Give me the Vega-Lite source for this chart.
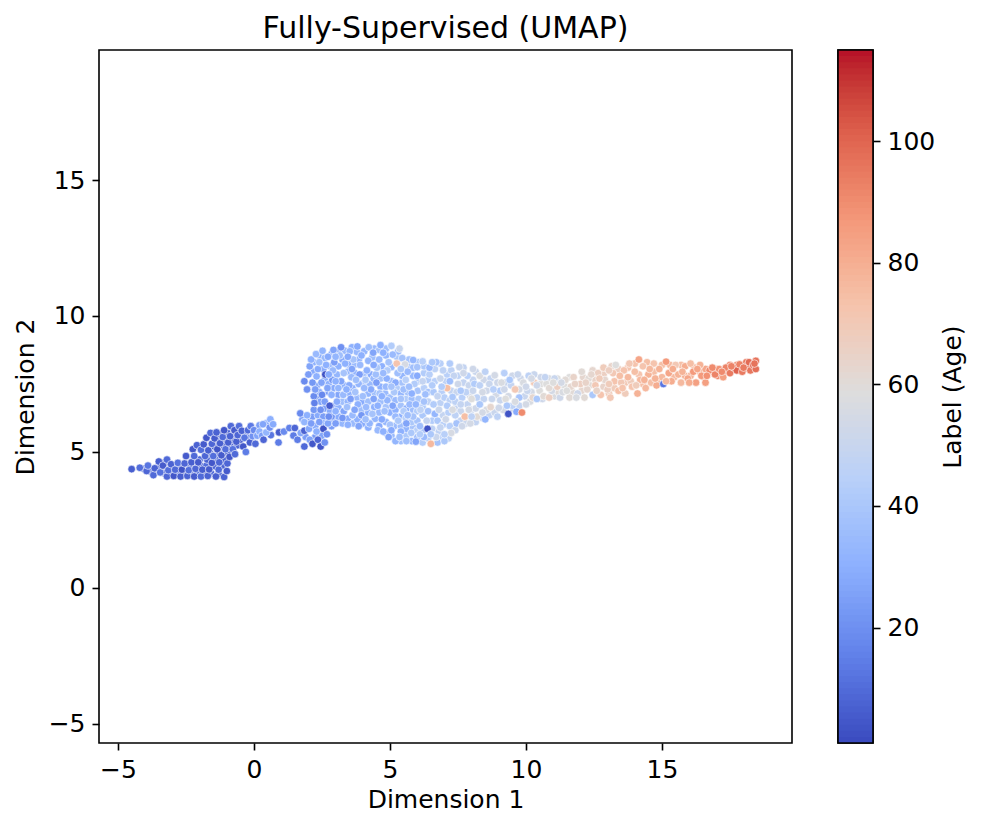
{"$schema":"https://vega.github.io/schema/vega-lite/v6.json","padding":{"left":12,"top":13,"right":8,"bottom":8},"background":"white","spacing":43,
"config":{"view":{"stroke":"#000","strokeWidth":1.6},"font":"DejaVu Sans","axis":{"grid":false,"domain":false,"tickColor":"#000","tickSize":7,"tickWidth":1.6,"labelColor":"#000","titleColor":"#000","labelFontSize":25,"titleFontSize":25,"titleFontWeight":"normal","labelPadding":7,"labelFont":"DejaVu Sans","titleFont":"DejaVu Sans"}},
"datasets":{"pts":[
{"x":1.95,"y":6.15,"a":26},{"x":2.15,"y":6.3,"a":24},{"x":2.35,"y":6.35,"a":28},{"x":2.55,"y":6.3,"a":24},{"x":2.25,"y":5.95,"a":28},{"x":2.55,"y":6.05,"a":30},{"x":1.9,"y":5.55,"a":24},{"x":2.25,"y":5.55,"a":22},{"x":2.5,"y":5.6,"a":26},{"x":1.78,"y":6.2,"a":26},{"x":2.85,"y":5.95,"a":24},{"x":2.8,"y":6.1,"a":28},
{"x":-4.05,"y":4.38,"a":9},{"x":-3.8,"y":4.28,"a":10},{"x":-3.55,"y":4.42,"a":8},{"x":-3.3,"y":4.22,"a":7},{"x":-3.28,"y":4.62,"a":11},{"x":-3.05,"y":4.22,"a":9},{"x":-2.82,"y":4.24,"a":12},{"x":-2.72,"y":4.48,"a":6},{"x":-2.55,"y":4.22,"a":10},{"x":-2.35,"y":4.48,"a":9},{"x":-2.3,"y":4.22,"a":8},{"x":-2.1,"y":4.22,"a":11},{"x":-1.98,"y":4.5,"a":7},{"x":-2.0,"y":4.72,"a":9},{"x":-1.82,"y":4.22,"a":6},{"x":-1.75,"y":4.5,"a":10},{"x":-1.72,"y":4.72,"a":7},{"x":-1.58,"y":4.22,"a":9},{"x":-1.62,"y":4.95,"a":6},{"x":-1.45,"y":4.48,"a":8},{"x":-1.4,"y":4.72,"a":10},{"x":-1.45,"y":5.2,"a":7},{"x":-1.3,"y":4.2,"a":6},{"x":-1.28,"y":4.95,"a":9},{"x":-1.3,"y":5.42,"a":10},{"x":-1.25,"y":5.65,"a":6},{"x":-1.15,"y":4.5,"a":7},{"x":-1.1,"y":4.72,"a":8},{"x":-1.1,"y":5.22,"a":5},{"x":-1.02,"y":5.45,"a":11},{"x":-0.98,"y":5.7,"a":8},{"x":-0.95,"y":4.95,"a":7},{"x":-0.85,"y":5.22,"a":8},{"x":-0.78,"y":5.45,"a":9},{"x":-0.75,"y":5.68,"a":10},{"x":-0.6,"y":5.25,"a":7},{"x":-0.5,"y":5.45,"a":5},{"x":-0.48,"y":5.62,"a":9},{"x":-0.3,"y":5.68,"a":11},{"x":-0.2,"y":5.5,"a":10},{"x":0.2,"y":5.98,"a":24},{"x":0.45,"y":6.05,"a":28},{"x":0.62,"y":5.62,"a":12},
{"x":2.3,"y":6.95,"a":22},{"x":2.3,"y":7.42,"a":26},{"x":2.2,"y":7.95,"a":28},{"x":2.2,"y":8.3,"a":30},{"x":2.4,"y":8.55,"a":30},{"x":2.45,"y":6.85,"a":26},{"x":2.4,"y":7.2,"a":28},{"x":2.6,"y":6.6,"a":24},{"x":2.6,"y":7.65,"a":30},{"x":2.55,"y":8.05,"a":28},{"x":2.6,"y":8.45,"a":34},{"x":2.8,"y":6.5,"a":28},{"x":2.75,"y":7.2,"a":24},{"x":2.75,"y":7.5,"a":30},{"x":2.8,"y":8.15,"a":32},{"x":2.85,"y":8.6,"a":30},{"x":2.9,"y":6.15,"a":26},{"x":2.95,"y":6.7,"a":24},{"x":2.95,"y":7.35,"a":28},{"x":3.1,"y":6.3,"a":28},{"x":3.1,"y":6.65,"a":30},{"x":3.1,"y":7.1,"a":26},{"x":3.05,"y":7.85,"a":32},{"x":3.1,"y":8.15,"a":30},{"x":3.1,"y":8.72,"a":28},{"x":3.25,"y":6.05,"a":32},{"x":3.3,"y":6.5,"a":26},{"x":3.25,"y":6.85,"a":36},{"x":3.3,"y":7.45,"a":30},{"x":3.25,"y":8.4,"a":28},{"x":3.35,"y":8.72,"a":34},{"x":3.45,"y":6.22,"a":28},{"x":3.45,"y":6.85,"a":32},{"x":3.5,"y":7.15,"a":30},{"x":3.45,"y":7.95,"a":32},{"x":3.48,"y":8.22,"a":28},{"x":3.6,"y":8.85,"a":30},{"x":3.65,"y":6.05,"a":34},{"x":3.62,"y":7.35,"a":30},{"x":3.68,"y":7.92,"a":30},{"x":3.72,"y":8.22,"a":34},{"x":3.8,"y":6.2,"a":30},{"x":3.8,"y":7.0,"a":34},{"x":3.85,"y":8.4,"a":30},{"x":3.78,"y":8.68,"a":34},{"x":4.0,"y":6.05,"a":28},{"x":3.95,"y":6.55,"a":36},{"x":4.0,"y":6.85,"a":28},{"x":4.0,"y":7.52,"a":30},{"x":4.02,"y":7.85,"a":38},{"x":4.05,"y":8.7,"a":32},{"x":4.2,"y":5.9,"a":30},{"x":4.2,"y":6.45,"a":30},{"x":4.2,"y":6.85,"a":36},{"x":4.2,"y":7.15,"a":32},{"x":4.25,"y":7.5,"a":34},{"x":4.3,"y":7.85,"a":28},{"x":4.35,"y":8.48,"a":36},{"x":4.45,"y":6.22,"a":32},{"x":4.42,"y":6.65,"a":30},{"x":4.45,"y":7.15,"a":36},{"x":4.4,"y":7.7,"a":34},{"x":4.42,"y":8.8,"a":34},{"x":4.6,"y":5.95,"a":28},{"x":4.6,"y":6.45,"a":34},{"x":4.65,"y":6.85,"a":36},{"x":4.65,"y":7.4,"a":30},{"x":4.65,"y":7.7,"a":38},{"x":4.7,"y":8.15,"a":30},{"x":4.6,"y":8.75,"a":38},{"x":4.85,"y":5.7,"a":36},{"x":4.85,"y":6.1,"a":32},{"x":4.85,"y":6.65,"a":38},{"x":4.82,"y":7.15,"a":34},{"x":4.85,"y":8.55,"a":32},{"x":4.85,"y":8.8,"a":36},{"x":5.0,"y":6.45,"a":30},{"x":5.0,"y":7.0,"a":36},{"x":5.05,"y":7.6,"a":36},{"x":5.05,"y":8.12,"a":34},{"x":5.05,"y":5.6,"a":34},{"x":5.15,"y":5.95,"a":34},{"x":5.2,"y":6.55,"a":30},{"x":5.2,"y":6.9,"a":34},{"x":5.25,"y":7.35,"a":42},{"x":5.25,"y":8.5,"a":40},{"x":5.3,"y":8.7,"a":34},{"x":5.4,"y":5.4,"a":36},{"x":5.4,"y":5.95,"a":36},{"x":5.4,"y":6.3,"a":30},{"x":5.4,"y":6.7,"a":38},{"x":5.4,"y":7.15,"a":32},{"x":5.45,"y":7.55,"a":38},{"x":5.45,"y":7.8,"a":32},{"x":5.6,"y":5.6,"a":40},{"x":5.6,"y":5.85,"a":32},{"x":5.58,"y":6.25,"a":44},{"x":5.6,"y":6.6,"a":30},{"x":5.6,"y":6.95,"a":42},{"x":5.65,"y":7.2,"a":38},{"x":5.65,"y":8.15,"a":36},{"x":5.7,"y":8.4,"a":38},{"x":5.8,"y":5.4,"a":34},{"x":5.85,"y":5.9,"a":38},{"x":5.8,"y":6.1,"a":40},{"x":5.85,"y":6.55,"a":36},{"x":5.8,"y":6.95,"a":36},{"x":5.85,"y":7.8,"a":34},{"x":5.85,"y":8.1,"a":36},{"x":6.0,"y":5.55,"a":36},{"x":6.0,"y":5.8,"a":44},{"x":6.0,"y":6.15,"a":38},{"x":6.0,"y":6.5,"a":42},{"x":6.02,"y":7.25,"a":38},{"x":6.05,"y":7.6,"a":40},{"x":6.05,"y":8.3,"a":40},{"x":6.2,"y":5.35,"a":42},{"x":6.2,"y":5.78,"a":38},{"x":6.2,"y":6.35,"a":40},{"x":6.2,"y":6.65,"a":42},{"x":6.25,"y":7.35,"a":44},{"x":6.25,"y":7.9,"a":42},{"x":6.25,"y":8.15,"a":40},{"x":6.4,"y":5.5,"a":44},{"x":6.4,"y":6.5,"a":38},{"x":6.4,"y":6.85,"a":46},{"x":6.4,"y":7.2,"a":38},{"x":6.4,"y":7.65,"a":42},{"x":6.55,"y":5.85,"a":46},{"x":6.55,"y":6.15,"a":42},{"x":6.6,"y":7.2,"a":40},{"x":6.65,"y":7.6,"a":44},{"x":6.65,"y":8.05,"a":46},{"x":6.75,"y":5.35,"a":38},{"x":6.8,"y":5.75,"a":46},{"x":6.75,"y":6.15,"a":40},{"x":6.85,"y":6.8,"a":46},{"x":6.9,"y":7.2,"a":44},{"x":6.85,"y":8.25,"a":44},{"x":6.95,"y":5.55,"a":42},{"x":6.95,"y":6.0,"a":44},{"x":6.95,"y":6.35,"a":48},{"x":7.0,"y":7.0,"a":44},{"x":7.05,"y":7.6,"a":46},{"x":7.1,"y":7.85,"a":44},{"x":7.15,"y":5.5,"a":46},{"x":7.2,"y":5.95,"a":44},{"x":7.15,"y":6.45,"a":44},{"x":7.2,"y":6.9,"a":46},{"x":7.25,"y":7.25,"a":48},{"x":7.25,"y":8.0,"a":46},{"x":7.4,"y":5.8,"a":50},{"x":7.4,"y":6.6,"a":48},{"x":7.4,"y":6.85,"a":46},{"x":7.45,"y":7.2,"a":50},{"x":7.5,"y":7.8,"a":46},{"x":7.6,"y":6.15,"a":48},{"x":7.6,"y":6.5,"a":50},{"x":7.65,"y":7.0,"a":44},{"x":7.7,"y":7.55,"a":48},{"x":7.7,"y":8.1,"a":48},{"x":7.8,"y":6.05,"a":50},{"x":7.85,"y":6.75,"a":48},{"x":7.9,"y":7.45,"a":50},{"x":7.95,"y":7.05,"a":54},{"x":8.0,"y":6.55,"a":50},{"x":8.05,"y":7.65,"a":48},{"x":8.15,"y":6.1,"a":48},{"x":8.15,"y":6.6,"a":52},{"x":8.2,"y":7.0,"a":46},{"x":8.15,"y":7.95,"a":50},{"x":8.4,"y":6.25,"a":52},{"x":8.45,"y":6.95,"a":48},{"x":8.45,"y":7.65,"a":52},{"x":8.55,"y":7.25,"a":52},{"x":8.65,"y":6.35,"a":48},{"x":8.7,"y":7.7,"a":48},{"x":8.85,"y":6.45,"a":50},{"x":8.9,"y":7.1,"a":54},{"x":8.95,"y":7.55,"a":52},{"x":9.05,"y":6.9,"a":50},{"x":9.15,"y":6.55,"a":54},{"x":9.25,"y":7.55,"a":50},{"x":9.35,"y":7.05,"a":54},{"x":9.45,"y":7.45,"a":48},{"x":9.5,"y":7.8,"a":52},{"x":9.55,"y":6.6,"a":52},{"x":9.75,"y":6.7,"a":48},{"x":9.75,"y":7.3,"a":54},{"x":9.8,"y":7.7,"a":52},{"x":9.95,"y":7.05,"a":50},{"x":10.2,"y":7.2,"a":54},{"x":10.15,"y":6.85,"a":56},{"x":10.3,"y":7.85,"a":50},{"x":10.55,"y":7.5,"a":58},{"x":10.6,"y":6.95,"a":52},{"x":10.85,"y":7.7,"a":56},{"x":11.05,"y":7.05,"a":56},{"x":11.15,"y":7.7,"a":58},{"x":11.2,"y":7.2,"a":60},{"x":11.4,"y":7.45,"a":58},{"x":11.6,"y":7.75,"a":58},{"x":11.7,"y":7.2,"a":60},{"x":12.05,"y":7.25,"a":62},{"x":12.1,"y":7.75,"a":62},{"x":12.35,"y":7.45,"a":60},{"x":12.45,"y":8.0,"a":62},{"x":12.55,"y":7.65,"a":64},{"x":12.85,"y":7.4,"a":64},{"x":12.85,"y":7.85,"a":66},{"x":13.05,"y":7.15,"a":68},{"x":13.25,"y":7.35,"a":68},{"x":13.15,"y":8.15,"a":64},{"x":13.4,"y":8.05,"a":66},{"x":13.65,"y":7.55,"a":70},{"x":13.75,"y":8.1,"a":72},{"x":13.85,"y":7.6,"a":68},{"x":14.0,"y":8.25,"a":72},{"x":14.15,"y":7.85,"a":72},{"x":14.3,"y":7.5,"a":74},{"x":14.45,"y":8.3,"a":74},{"x":14.7,"y":7.95,"a":74},{"x":14.9,"y":7.55,"a":74},{"x":15.0,"y":8.2,"a":74},{"x":15.3,"y":8.2,"a":76},{"x":15.45,"y":7.75,"a":76},{"x":15.7,"y":8.2,"a":74},{"x":15.85,"y":7.8,"a":78},{"x":16.05,"y":7.8,"a":78},{"x":16.2,"y":8.1,"a":78},{"x":16.4,"y":7.95,"a":80},{"x":16.55,"y":7.75,"a":84},{"x":16.6,"y":8.05,"a":82},{"x":16.95,"y":8.05,"a":86},{"x":17.05,"y":7.8,"a":90},{"x":17.3,"y":7.95,"a":88},{"x":17.5,"y":8.2,"a":90},{"x":17.75,"y":8.2,"a":90},{"x":17.85,"y":8.0,"a":94},{"x":18.1,"y":8.3,"a":94},{"x":18.2,"y":8.05,"a":92},
{"x":-4.5,"y":4.37,"a":6},{"x":-4.2,"y":4.42,"a":10},{"x":-3.95,"y":4.3,"a":8},{"x":-3.9,"y":4.5,"a":12},{"x":-3.7,"y":4.15,"a":9},{"x":-3.65,"y":4.4,"a":7},{"x":-3.5,"y":4.65,"a":6},{"x":-3.45,"y":4.25,"a":11},{"x":-3.35,"y":4.5,"a":5},{"x":-3.2,"y":4.1,"a":8},{"x":-3.2,"y":4.72,"a":9},{"x":-3.15,"y":4.33,"a":10},{"x":-3.05,"y":4.55,"a":7},{"x":-2.95,"y":4.12,"a":4},{"x":-2.9,"y":4.35,"a":9},{"x":-2.8,"y":4.6,"a":11},{"x":-2.7,"y":4.1,"a":6},{"x":-2.65,"y":4.35,"a":3},{"x":-2.55,"y":4.58,"a":8},{"x":-2.5,"y":4.85,"a":5},{"x":-2.45,"y":4.12,"a":7},{"x":-2.4,"y":4.33,"a":10},{"x":-2.3,"y":4.62,"a":6},{"x":-2.25,"y":5.1,"a":4},{"x":-2.2,"y":4.1,"a":5},{"x":-2.2,"y":4.85,"a":9},{"x":-2.15,"y":4.38,"a":8},{"x":-2.1,"y":5.25,"a":7},{"x":-2.05,"y":4.62,"a":5},{"x":-1.95,"y":4.1,"a":9},{"x":-1.95,"y":5.08,"a":10},{"x":-1.9,"y":4.35,"a":6},{"x":-1.85,"y":5.28,"a":5},{"x":-1.8,"y":4.85,"a":8},{"x":-1.75,"y":5.52,"a":4},{"x":-1.7,"y":4.12,"a":7},{"x":-1.68,"y":5.06,"a":6},{"x":-1.65,"y":4.36,"a":5},{"x":-1.6,"y":5.7,"a":9},{"x":-1.55,"y":4.6,"a":4},{"x":-1.55,"y":5.3,"a":8},{"x":-1.5,"y":4.85,"a":10},{"x":-1.45,"y":5.5,"a":5},{"x":-1.4,"y":4.1,"a":6},{"x":-1.38,"y":5.72,"a":7},{"x":-1.35,"y":5.1,"a":3},{"x":-1.3,"y":4.35,"a":9},{"x":-1.28,"y":4.62,"a":8},{"x":-1.25,"y":5.32,"a":6},{"x":-1.2,"y":4.88,"a":5},{"x":-1.15,"y":5.55,"a":9},{"x":-1.1,"y":4.08,"a":7},{"x":-1.1,"y":5.8,"a":4},{"x":-1.05,"y":5.1,"a":10},{"x":-1.0,"y":4.3,"a":5},{"x":-0.98,"y":4.58,"a":8},{"x":-0.95,"y":5.35,"a":6},{"x":-0.9,"y":4.82,"a":4},{"x":-0.88,"y":5.58,"a":7},{"x":-0.85,"y":5.95,"a":9},{"x":-0.78,"y":5.1,"a":11},{"x":-0.72,"y":5.8,"a":5},{"x":-0.7,"y":4.92,"a":9},{"x":-0.65,"y":5.38,"a":6},{"x":-0.6,"y":5.62,"a":8},{"x":-0.55,"y":5.95,"a":10},{"x":-0.45,"y":5.78,"a":7},{"x":-0.4,"y":5.2,"a":4},{"x":-0.35,"y":5.52,"a":12},{"x":-0.3,"y":5.0,"a":14},{"x":-0.22,"y":5.8,"a":9},{"x":-0.15,"y":5.35,"a":6},{"x":-0.12,"y":5.95,"a":13},{"x":-0.05,"y":5.58,"a":20},{"x":0.0,"y":5.8,"a":18},{"x":0.05,"y":5.3,"a":9},{"x":0.12,"y":5.6,"a":26},{"x":0.2,"y":5.75,"a":30},{"x":0.3,"y":5.6,"a":24},{"x":0.35,"y":5.45,"a":8},{"x":0.33,"y":6.02,"a":26},{"x":0.45,"y":5.72,"a":32},{"x":0.6,"y":6.2,"a":30},{"x":0.58,"y":5.9,"a":20},{"x":0.7,"y":6.02,"a":28},{"x":0.92,"y":5.72,"a":5},{"x":0.9,"y":5.35,"a":14},{"x":1.1,"y":5.75,"a":18},{"x":1.3,"y":5.88,"a":15},{"x":1.5,"y":5.88,"a":8},{"x":1.45,"y":5.6,"a":14},{"x":1.6,"y":5.45,"a":14},
{"x":1.7,"y":6.42,"a":18},{"x":1.72,"y":5.7,"a":27},{"x":1.85,"y":6.1,"a":32},{"x":1.85,"y":5.78,"a":7},{"x":1.85,"y":5.2,"a":9},{"x":1.95,"y":6.35,"a":30},{"x":2.02,"y":5.85,"a":27},{"x":2.05,"y":5.45,"a":25},{"x":2.1,"y":6.05,"a":24},{"x":2.15,"y":5.3,"a":4},{"x":2.2,"y":6.55,"a":22},{"x":2.3,"y":5.75,"a":30},{"x":2.35,"y":5.45,"a":8},{"x":2.4,"y":6.1,"a":24},{"x":2.45,"y":5.2,"a":4},{"x":2.55,"y":5.85,"a":3},{"x":2.6,"y":5.35,"a":20},{"x":2.68,"y":5.65,"a":20},{"x":2.72,"y":6.05,"a":26},{"x":2.85,"y":6.3,"a":22},
{"x":1.85,"y":7.6,"a":18},{"x":1.95,"y":7.3,"a":20},{"x":2.0,"y":7.85,"a":24},{"x":2.05,"y":8.15,"a":26},{"x":2.1,"y":8.4,"a":30},{"x":2.15,"y":7.55,"a":22},{"x":2.2,"y":7.05,"a":18},{"x":2.22,"y":6.8,"a":15},{"x":2.25,"y":7.3,"a":24},{"x":2.28,"y":8.6,"a":34},{"x":2.3,"y":7.78,"a":30},{"x":2.35,"y":8.05,"a":28},{"x":2.4,"y":8.3,"a":36},{"x":2.45,"y":6.55,"a":20},{"x":2.48,"y":7.55,"a":26},{"x":2.5,"y":7.1,"a":17},{"x":2.52,"y":8.72,"a":32},{"x":2.6,"y":6.85,"a":24},{"x":2.62,"y":7.85,"a":3},{"x":2.65,"y":8.2,"a":30},{"x":2.7,"y":7.35,"a":26},{"x":2.72,"y":8.5,"a":28},{"x":2.75,"y":6.3,"a":19},{"x":2.78,"y":6.7,"a":6},{"x":2.85,"y":7.1,"a":30},{"x":2.88,"y":7.65,"a":22},{"x":2.9,"y":8.0,"a":34},{"x":2.92,"y":8.75,"a":26},{"x":2.95,"y":8.3,"a":24},{"x":3.0,"y":6.05,"a":24},{"x":3.0,"y":6.5,"a":30},{"x":3.05,"y":6.85,"a":28},{"x":3.1,"y":7.35,"a":32},{"x":3.15,"y":8.55,"a":36},{"x":3.2,"y":7.6,"a":26},{"x":3.2,"y":8.85,"a":20},{"x":3.25,"y":6.25,"a":22},{"x":3.28,"y":7.1,"a":34},{"x":3.3,"y":7.9,"a":38},{"x":3.35,"y":8.25,"a":30},{"x":3.42,"y":6.65,"a":36},{"x":3.45,"y":6.0,"a":30},{"x":3.5,"y":7.45,"a":28},{"x":3.52,"y":8.7,"a":32},{"x":3.55,"y":6.95,"a":24},{"x":3.58,"y":7.75,"a":34},{"x":3.6,"y":8.05,"a":26},{"x":3.62,"y":6.35,"a":34},{"x":3.65,"y":8.4,"a":38},{"x":3.72,"y":7.2,"a":38},{"x":3.8,"y":8.88,"a":28},{"x":3.82,"y":6.75,"a":30},{"x":3.85,"y":5.95,"a":26},{"x":3.85,"y":7.5,"a":32},{"x":3.88,"y":7.85,"a":24},{"x":3.9,"y":8.2,"a":34},{"x":3.95,"y":6.35,"a":22},{"x":3.95,"y":8.55,"a":30},{"x":4.0,"y":7.05,"a":36},{"x":4.1,"y":7.65,"a":40},{"x":4.12,"y":6.65,"a":34},{"x":4.15,"y":8.0,"a":30},{"x":4.2,"y":8.35,"a":32},{"x":4.22,"y":8.85,"a":36},{"x":4.25,"y":6.05,"a":32},{"x":4.3,"y":7.3,"a":28},{"x":4.35,"y":6.4,"a":38},{"x":4.38,"y":8.65,"a":26},{"x":4.4,"y":6.95,"a":26},{"x":4.48,"y":7.85,"a":36},{"x":4.5,"y":7.55,"a":24},{"x":4.52,"y":8.1,"a":40},{"x":4.55,"y":6.7,"a":30},{"x":4.55,"y":5.8,"a":34},{"x":4.6,"y":8.4,"a":34},{"x":4.62,"y":7.15,"a":38},{"x":4.65,"y":8.93,"a":30},{"x":4.7,"y":6.2,"a":28},{"x":4.75,"y":8.65,"a":30},{"x":4.8,"y":6.5,"a":36},{"x":4.85,"y":7.4,"a":34},{"x":4.88,"y":7.7,"a":30},{"x":4.9,"y":6.9,"a":32},{"x":4.9,"y":8.0,"a":42},{"x":4.95,"y":5.55,"a":26},{"x":4.95,"y":8.3,"a":38},{"x":5.0,"y":6.0,"a":38},{"x":5.05,"y":8.9,"a":42},{"x":5.1,"y":8.58,"a":34},{"x":5.1,"y":6.7,"a":26},{"x":5.15,"y":7.2,"a":40},{"x":5.2,"y":5.4,"a":32},{"x":5.2,"y":6.3,"a":34},{"x":5.2,"y":7.55,"a":28},{"x":5.25,"y":8.25,"a":72},{"x":5.28,"y":7.9,"a":36},{"x":5.35,"y":8.8,"a":50},{"x":5.4,"y":5.75,"a":30},{"x":5.4,"y":6.95,"a":38},{"x":5.45,"y":8.45,"a":38},{"x":5.5,"y":7.3,"a":36},{"x":5.5,"y":6.5,"a":42},{"x":5.55,"y":8.22,"a":55},{"x":5.58,"y":7.65,"a":44},{"x":5.6,"y":5.4,"a":36},{"x":5.6,"y":6.05,"a":26},{"x":5.65,"y":7.95,"a":34},{"x":5.72,"y":6.75,"a":34},{"x":5.78,"y":5.7,"a":40},{"x":5.8,"y":7.15,"a":30},{"x":5.85,"y":8.38,"a":32},{"x":5.85,"y":6.3,"a":38},{"x":5.9,"y":7.5,"a":42},{"x":5.95,"y":5.38,"a":26},{"x":6.0,"y":8.12,"a":38},{"x":6.0,"y":7.8,"a":28},{"x":6.05,"y":6.95,"a":40},{"x":6.1,"y":5.95,"a":36},{"x":6.12,"y":6.55,"a":46},{"x":6.2,"y":8.33,"a":44},{"x":6.25,"y":5.55,"a":34},{"x":6.3,"y":7.12,"a":36},{"x":6.35,"y":6.15,"a":48},{"x":6.38,"y":5.85,"a":3},{"x":6.45,"y":7.85,"a":44},{"x":6.45,"y":8.1,"a":34},{"x":6.5,"y":5.3,"a":76},{"x":6.55,"y":7.45,"a":42},{"x":6.6,"y":6.75,"a":42},{"x":6.65,"y":6.4,"a":32},{"x":6.7,"y":5.55,"a":50},{"x":6.7,"y":8.3,"a":38},{"x":6.75,"y":7.05,"a":48},{"x":6.85,"y":5.9,"a":48},{"x":6.85,"y":7.7,"a":50},{"x":6.95,"y":8.0,"a":46},{"x":7.0,"y":5.4,"a":40},{"x":7.05,"y":6.2,"a":52},{"x":7.1,"y":6.7,"a":42},{"x":7.1,"y":7.35,"a":74},{"x":7.2,"y":8.25,"a":42},{"x":7.25,"y":5.7,"a":55},{"x":7.3,"y":7.02,"a":40},{"x":7.35,"y":7.8,"a":48},{"x":7.4,"y":6.35,"a":46},{"x":7.45,"y":6.05,"a":38},{"x":7.5,"y":7.5,"a":52},{"x":7.55,"y":8.12,"a":50},{"x":7.6,"y":6.75,"a":48},{"x":7.65,"y":5.95,"a":52},{"x":7.75,"y":6.3,"a":74},{"x":7.8,"y":7.2,"a":46},{"x":7.85,"y":7.8,"a":44},{"x":7.9,"y":6.55,"a":54},{"x":7.95,"y":6.05,"a":54},{"x":8.0,"y":6.95,"a":58},{"x":8.05,"y":8.05,"a":52},{"x":8.1,"y":7.5,"a":42},{"x":8.2,"y":6.3,"a":60},{"x":8.3,"y":6.75,"a":40},{"x":8.3,"y":7.8,"a":56},{"x":8.4,"y":7.2,"a":54},{"x":8.5,"y":6.2,"a":32},{"x":8.5,"y":7.95,"a":46},{"x":8.55,"y":6.55,"a":56},{"x":8.65,"y":7.5,"a":50},{"x":8.75,"y":6.95,"a":50},{"x":8.85,"y":7.82,"a":54},{"x":8.95,"y":6.3,"a":46},{"x":9.0,"y":6.62,"a":52},{"x":9.05,"y":7.25,"a":42},{"x":9.1,"y":7.55,"a":56},{"x":9.2,"y":7.9,"a":44},{"x":9.25,"y":6.95,"a":58},{"x":9.35,"y":6.4,"a":3},{"x":9.4,"y":7.65,"a":40},{"x":9.5,"y":6.7,"a":46},{"x":9.6,"y":7.3,"a":70},{"x":9.65,"y":6.48,"a":28},{"x":9.7,"y":7.85,"a":50},{"x":9.75,"y":7.0,"a":38},{"x":9.85,"y":6.45,"a":90},{"x":9.9,"y":7.55,"a":56},{"x":10.0,"y":6.75,"a":54},{"x":10.05,"y":7.25,"a":50},{"x":10.1,"y":7.8,"a":46},{"x":10.25,"y":7.0,"a":62},{"x":10.3,"y":7.55,"a":70},{"x":10.4,"y":6.95,"a":40},{"x":10.5,"y":7.25,"a":58},{"x":10.55,"y":7.75,"a":52},{"x":10.65,"y":7.05,"a":60},{"x":10.75,"y":7.5,"a":58},{"x":10.85,"y":7.0,"a":66},{"x":10.95,"y":7.25,"a":54},{"x":11.05,"y":7.7,"a":50},{"x":11.15,"y":7.4,"a":66},{"x":11.25,"y":7.0,"a":52},{"x":11.35,"y":7.2,"a":56},{"x":11.45,"y":7.65,"a":60},{"x":11.6,"y":7.0,"a":60},{"x":11.65,"y":7.4,"a":62},{"x":11.75,"y":7.75,"a":64},{"x":11.9,"y":7.15,"a":52},{"x":12.0,"y":7.5,"a":66},{"x":12.05,"y":7.95,"a":60},{"x":12.15,"y":7.0,"a":60},{"x":12.25,"y":7.3,"a":62},{"x":12.3,"y":7.7,"a":60},{"x":12.45,"y":7.1,"a":40},{"x":12.55,"y":7.45,"a":70},{"x":12.65,"y":7.9,"a":66},{"x":12.75,"y":7.1,"a":72},{"x":12.85,"y":8.1,"a":68},{"x":12.9,"y":7.65,"a":62},{"x":13.0,"y":7.3,"a":66},{"x":13.1,"y":7.0,"a":70},{"x":13.2,"y":7.9,"a":70},{"x":13.25,"y":7.6,"a":72},{"x":13.3,"y":8.2,"a":58},{"x":13.4,"y":7.25,"a":74},{"x":13.5,"y":7.55,"a":70},{"x":13.6,"y":8.0,"a":72},{"x":13.65,"y":7.15,"a":68},{"x":13.75,"y":7.75,"a":76},{"x":13.8,"y":8.25,"a":70},{"x":13.9,"y":7.4,"a":72},{"x":14.0,"y":7.95,"a":74},{"x":14.1,"y":7.15,"a":78},{"x":14.15,"y":8.4,"a":82},{"x":14.2,"y":7.65,"a":76},{"x":14.3,"y":8.15,"a":72},{"x":14.4,"y":7.35,"a":76},{"x":14.5,"y":7.85,"a":78},{"x":14.6,"y":7.55,"a":74},{"x":14.7,"y":8.25,"a":72},{"x":14.8,"y":7.45,"a":80},{"x":14.9,"y":8.05,"a":78},{"x":15.0,"y":7.75,"a":76},{"x":15.05,"y":7.5,"a":12},{"x":15.15,"y":8.32,"a":86},{"x":15.25,"y":7.9,"a":82},{"x":15.35,"y":7.6,"a":80},{"x":15.5,"y":8.2,"a":70},{"x":15.6,"y":7.85,"a":78},{"x":15.7,"y":7.55,"a":76},{"x":15.85,"y":8.15,"a":80},{"x":15.95,"y":7.7,"a":82},{"x":16.05,"y":8.25,"a":74},{"x":16.15,"y":7.95,"a":86},{"x":16.25,"y":7.55,"a":84},{"x":16.4,"y":8.2,"a":78},{"x":16.45,"y":7.8,"a":86},{"x":16.6,"y":7.55,"a":84},{"x":16.75,"y":8.0,"a":90},{"x":16.95,"y":7.85,"a":92},{"x":17.1,"y":8.05,"a":88},{"x":17.25,"y":7.75,"a":84},{"x":17.35,"y":8.1,"a":92},{"x":17.5,"y":7.9,"a":94},{"x":17.65,"y":8.1,"a":96},{"x":17.75,"y":8.0,"a":100},{"x":17.85,"y":8.22,"a":92},{"x":17.95,"y":7.95,"a":94},{"x":18.1,"y":8.15,"a":96},{"x":18.2,"y":8.3,"a":98},{"x":18.25,"y":8.0,"a":95},{"x":18.35,"y":8.2,"a":98},{"x":18.45,"y":8.35,"a":96},{"x":18.45,"y":8.05,"a":97},
{"x":10.0,"y":7.4,"a":52},{"x":10.2,"y":7.7,"a":54},{"x":10.4,"y":7.45,"a":52},{"x":10.7,"y":7.75,"a":48},{"x":10.85,"y":7.35,"a":60},{"x":11.0,"y":7.55,"a":58},{"x":11.3,"y":7.55,"a":54},{"x":11.5,"y":7.25,"a":58},{"x":11.8,"y":7.5,"a":64},{"x":11.85,"y":7.0,"a":56},{"x":12.2,"y":7.55,"a":64},{"x":12.4,"y":7.85,"a":62},{"x":12.6,"y":7.25,"a":64},{"x":12.7,"y":7.7,"a":68},{"x":13.05,"y":7.5,"a":68},{"x":13.05,"y":8.0,"a":66},{"x":13.45,"y":7.8,"a":74},{"x":13.55,"y":7.35,"a":72},{"x":14.05,"y":7.45,"a":68},{"x":14.35,"y":7.65,"a":78},{"x":14.55,"y":8.05,"a":76},{"x":14.75,"y":7.7,"a":78},{"x":15.15,"y":7.6,"a":76},{"x":15.4,"y":8.05,"a":80},{"x":15.75,"y":7.95,"a":78},{"x":16.0,"y":7.55,"a":80},{"x":16.3,"y":8.05,"a":82},{"x":16.65,"y":7.8,"a":88},{"x":16.85,"y":8.1,"a":90},{"x":17.2,"y":7.95,"a":90},{"x":17.55,"y":8.15,"a":92},{"x":18.0,"y":8.1,"a":94},{"x":18.4,"y":8.25,"a":96},
{"x":2.75,"y":7.85,"a":28},{"x":3.0,"y":7.6,"a":30},{"x":3.0,"y":8.5,"a":32},{"x":3.4,"y":7.3,"a":30},{"x":3.45,"y":8.5,"a":28},{"x":3.7,"y":6.55,"a":26},{"x":3.75,"y":7.65,"a":36},{"x":4.05,"y":7.35,"a":34},{"x":4.1,"y":6.2,"a":36},{"x":4.4,"y":8.2,"a":28},{"x":4.7,"y":7.05,"a":30},{"x":4.75,"y":7.9,"a":34},{"x":4.75,"y":5.75,"a":30},{"x":5.05,"y":7.4,"a":38},{"x":5.05,"y":5.8,"a":28},{"x":5.3,"y":6.15,"a":40},{"x":5.35,"y":5.55,"a":36},{"x":5.4,"y":8.05,"a":40},{"x":5.65,"y":6.35,"a":36},{"x":5.7,"y":7.4,"a":36},{"x":5.95,"y":6.75,"a":32},{"x":6.1,"y":5.65,"a":42},{"x":6.25,"y":6.85,"a":38},{"x":6.2,"y":7.6,"a":48},{"x":6.5,"y":5.65,"a":40},{"x":6.55,"y":8.3,"a":40},{"x":6.8,"y":6.55,"a":50},{"x":6.9,"y":7.4,"a":42},{"x":7.0,"y":5.65,"a":44},{"x":7.2,"y":7.6,"a":36},{"x":7.3,"y":6.55,"a":56},{"x":7.6,"y":7.25,"a":40},{"x":7.7,"y":7.9,"a":52},{"x":8.0,"y":6.3,"a":46},{"x":8.05,"y":7.25,"a":50},{"x":8.3,"y":7.45,"a":46},{"x":8.4,"y":6.45,"a":54},{"x":8.8,"y":7.3,"a":44},{"x":8.7,"y":6.65,"a":62},{"x":9.2,"y":7.3,"a":52},{"x":9.3,"y":6.7,"a":40},{"x":9.6,"y":6.85,"a":56}
],
"bar":[{"a":1,"b":2.5},{"a":2,"b":3.5},{"a":3,"b":4.5},{"a":4,"b":5.5},{"a":5,"b":6.5},{"a":6,"b":7.5},{"a":7,"b":8.5},{"a":8,"b":9.5},{"a":9,"b":10.5},{"a":10,"b":11.5},{"a":11,"b":12.5},{"a":12,"b":13.5},{"a":13,"b":14.5},{"a":14,"b":15.5},{"a":15,"b":16.5},{"a":16,"b":17.5},{"a":17,"b":18.5},{"a":18,"b":19.5},{"a":19,"b":20.5},{"a":20,"b":21.5},{"a":21,"b":22.5},{"a":22,"b":23.5},{"a":23,"b":24.5},{"a":24,"b":25.5},{"a":25,"b":26.5},{"a":26,"b":27.5},{"a":27,"b":28.5},{"a":28,"b":29.5},{"a":29,"b":30.5},{"a":30,"b":31.5},{"a":31,"b":32.5},{"a":32,"b":33.5},{"a":33,"b":34.5},{"a":34,"b":35.5},{"a":35,"b":36.5},{"a":36,"b":37.5},{"a":37,"b":38.5},{"a":38,"b":39.5},{"a":39,"b":40.5},{"a":40,"b":41.5},{"a":41,"b":42.5},{"a":42,"b":43.5},{"a":43,"b":44.5},{"a":44,"b":45.5},{"a":45,"b":46.5},{"a":46,"b":47.5},{"a":47,"b":48.5},{"a":48,"b":49.5},{"a":49,"b":50.5},{"a":50,"b":51.5},{"a":51,"b":52.5},{"a":52,"b":53.5},{"a":53,"b":54.5},{"a":54,"b":55.5},{"a":55,"b":56.5},{"a":56,"b":57.5},{"a":57,"b":58.5},{"a":58,"b":59.5},{"a":59,"b":60.5},{"a":60,"b":61.5},{"a":61,"b":62.5},{"a":62,"b":63.5},{"a":63,"b":64.5},{"a":64,"b":65.5},{"a":65,"b":66.5},{"a":66,"b":67.5},{"a":67,"b":68.5},{"a":68,"b":69.5},{"a":69,"b":70.5},{"a":70,"b":71.5},{"a":71,"b":72.5},{"a":72,"b":73.5},{"a":73,"b":74.5},{"a":74,"b":75.5},{"a":75,"b":76.5},{"a":76,"b":77.5},{"a":77,"b":78.5},{"a":78,"b":79.5},{"a":79,"b":80.5},{"a":80,"b":81.5},{"a":81,"b":82.5},{"a":82,"b":83.5},{"a":83,"b":84.5},{"a":84,"b":85.5},{"a":85,"b":86.5},{"a":86,"b":87.5},{"a":87,"b":88.5},{"a":88,"b":89.5},{"a":89,"b":90.5},{"a":90,"b":91.5},{"a":91,"b":92.5},{"a":92,"b":93.5},{"a":93,"b":94.5},{"a":94,"b":95.5},{"a":95,"b":96.5},{"a":96,"b":97.5},{"a":97,"b":98.5},{"a":98,"b":99.5},{"a":99,"b":100.5},{"a":100,"b":101.5},{"a":101,"b":102.5},{"a":102,"b":103.5},{"a":103,"b":104.5},{"a":104,"b":105.5},{"a":105,"b":106.5},{"a":106,"b":107.5},{"a":107,"b":108.5},{"a":108,"b":109.5},{"a":109,"b":110.5},{"a":110,"b":111.5},{"a":111,"b":112.5},{"a":112,"b":113.5},{"a":113,"b":114.5},{"a":114,"b":115}],
"frame":[{"a":1,"b":115}]},
"hconcat":[
{"width":693,"height":693,"title":{"text":"Fully-Supervised (UMAP)","fontSize":30,"fontWeight":"normal","font":"DejaVu Sans","color":"#000","offset":6},"data":{"name":"pts"},
"mark":{"type":"point","filled":true,"size":58,"stroke":"white","strokeWidth":0.6,"opacity":1,"clip":true},
"encoding":{"x":{"field":"x","type":"quantitative","title":"Dimension 1","scale":{"domain":[-5.7,19.78],"nice":false,"zero":false},"axis":{"values":[-5,0,5,10,15],"titlePadding":5}},
"y":{"field":"y","type":"quantitative","title":"Dimension 2","scale":{"domain":[-5.7,19.78],"nice":false,"zero":false},"axis":{"values":[-5,0,5,10,15],"titlePadding":10}},
"fill":{"field":"a","type":"quantitative","legend":null,"scale":{"domain":[1,15.25,29.5,43.75,58,72.25,86.5,100.75,115],"range":["#3b4cc0","#6282ea","#8db0fe","#b8d0f9","#dddddd","#f5c4ad","#f4987a","#de604d","#b40426"]}}}},
{"width":35,"height":693,"layer":[
{"data":{"name":"bar"},"mark":{"type":"rect","clip":true},
"encoding":{"y":{"field":"a","type":"quantitative","title":"Label (Age)","scale":{"domain":[1,115],"nice":false,"zero":false},"axis":{"orient":"right","values":[20,40,60,80,100],"titlePadding":31,"titleAngle":270}},"y2":{"field":"b"},
"fill":{"field":"a","type":"quantitative","legend":null,"scale":{"domain":[1,15.25,29.5,43.75,58,72.25,86.5,100.75,115],"range":["#3b4cc0","#6282ea","#8db0fe","#b8d0f9","#dddddd","#f5c4ad","#f4987a","#de604d","#b40426"]}}}},
{"data":{"name":"frame"},"mark":{"type":"rect","fillOpacity":0,"stroke":"#000","strokeWidth":1.6},
"encoding":{"y":{"field":"a","type":"quantitative"},"y2":{"field":"b"}}}
]}
],"resolve":{"scale":{"y":"independent","x":"independent","fill":"independent"}}}
